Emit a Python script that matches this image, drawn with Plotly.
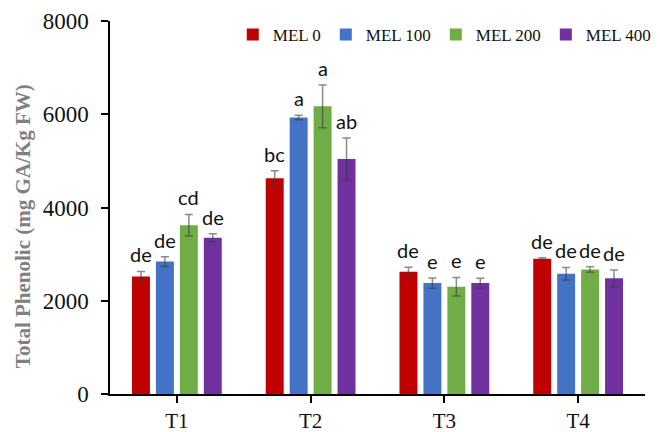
import plotly.graph_objects as go

categories = ["T1", "T2", "T3", "T4"]
series_names = ["MEL 0", "MEL 100", "MEL 200", "MEL 400"]
colors = ["#C00000", "#4472C4", "#70AD47", "#7030A0"]

mel0 = [2520, 4630, 2620, 2900]
mel100 = [2840, 5930, 2380, 2580]
mel200 = [3620, 6170, 2300, 2670]
mel400 = [3350, 5040, 2380, 2480]

err0 = [110, 160, 100, 20]
err100 = [105, 50, 110, 135]
err200 = [230, 460, 200, 60]
err400 = [85, 450, 105, 180]

letters0 = ["de", "bc", "de", "de"]
letters100 = ["de", "a", "e", "de"]
letters200 = ["cd", "a", "e", "de"]
letters400 = ["de", "ab", "e", "de"]

y_title = "Total Phenolic (mg GA/Kg FW)"

values = [mel0, mel100, mel200, mel400]
errors = [err0, err100, err200, err400]
letters = [letters0, letters100, letters200, letters400]

bargap = 0.284
bargroupgap = 0.25
xpos = list(range(len(categories)))

fig = go.Figure()
for name, col, vals, errs in zip(series_names, colors, values, errors):
    fig.add_trace(go.Bar(
        x=xpos, y=vals, name=name, marker_color=col, marker_line_width=0,
        error_y=dict(type="data", array=errs, visible=True,
                     color="rgba(60,60,60,0.6)", thickness=1.5, width=4),
    ))

n = len(series_names)
slot = (1 - bargap) / n
annotations = []
for j in range(n):
    for i in range(len(categories)):
        annotations.append(dict(
            x=xpos[i] + (j - (n - 1) / 2) * slot,
            y=values[j][i] + errors[j][i],
            text=letters[j][i], showarrow=False,
            xanchor="center", yanchor="bottom", yshift=3,
            font=dict(family="Lato, Noto Sans, sans-serif", size=20, color="#111111"),
        ))

# y-axis title placed slightly below the axis centre, as in the reference
annotations.append(dict(
    xref="paper", yref="paper", x=0, y=0.45, xshift=-87,
    xanchor="center", yanchor="middle", textangle=-90, showarrow=False,
    text="<b>" + y_title + "</b>",
    font=dict(family="Liberation Serif, serif", size=21, color="#808080"),
))

fig.update_layout(
    width=660, height=432,
    margin=dict(l=102, r=23, t=13, b=46, autoexpand=False),
    paper_bgcolor="white", plot_bgcolor="white",
    barmode="group", bargap=bargap, bargroupgap=bargroupgap,
    annotations=annotations,
    legend=dict(orientation="h", xref="container", yref="container",
                x=0.983, xanchor="right", y=0.9375, yanchor="middle",
                font=dict(family="Liberation Serif, serif", size=17, color="#111111"),
                itemwidth=30, tracegroupgap=0, bgcolor="rgba(0,0,0,0)"),
    xaxis=dict(
        range=[-0.5, len(categories) - 0.5],
        tickvals=xpos, ticktext=categories,
        showline=True, linecolor="black", linewidth=1.5,
        ticks="outside", ticklen=7, tickcolor="black", tickwidth=1.5,
        showgrid=False, zeroline=False,
        tickfont=dict(family="Liberation Serif, serif", size=21, color="#111111"),
    ),
    yaxis=dict(
        range=[0, 8000], tickvals=[0, 2000, 4000, 6000, 8000],
        showline=True, linecolor="black", linewidth=1.5,
        ticks="outside", ticklen=7, tickcolor="black", tickwidth=1.5,
        showgrid=False, zeroline=False,
        tickfont=dict(family="Liberation Serif, serif", size=23, color="#111111"),
        ticklabelstandoff=8,
    ),
)

fig.write_html("out.html")
